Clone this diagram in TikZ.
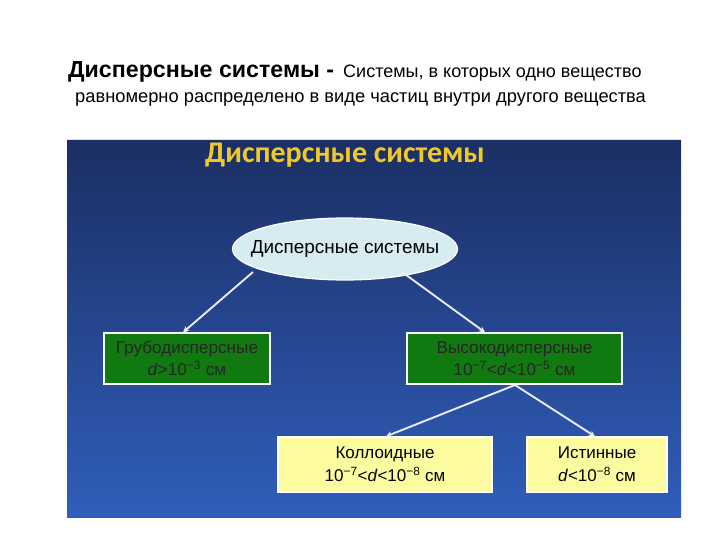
\documentclass[tikz,border=0pt]{standalone}
\usepackage{fontspec}
\setmainfont{Liberation Sans}
\newfontfamily\carl{Carlito}
\usetikzlibrary{arrows.meta,shapes.geometric}
\definecolor{navytop}{RGB}{27,47,100}
\definecolor{navybot}{RGB}{48,94,186}
\definecolor{ellfill}{RGB}{214,236,240}
\definecolor{grn}{RGB}{16,122,16}
\definecolor{yel}{RGB}{253,251,160}
\definecolor{titleyel}{RGB}{240,200,40}
\newcommand{\sups}[1]{\textsuperscript{#1}}
\tikzset{
  gbox/.style={draw=white, line width=1.2pt, fill=grn, minimum height=51pt, inner sep=0pt, align=center, font=\fontsize{17.2}{22}\selectfont, text=black!85},
  ybox/.style={draw=white, line width=1.2pt, fill=yel, minimum height=55pt, inner sep=0pt, align=center, font=\fontsize{17}{23}\selectfont, text=black},
  conn/.style={draw=white!92!blue, line width=1.9pt, -{Stealth[length=6pt,width=6pt]}}
}
\begin{document}
\begin{tikzpicture}[x=1pt,y=-1pt]
\useasboundingbox (0,0) rectangle (720,540);
\fill[white] (0,0) rectangle (720,540);
% heading
\node[anchor=base west, inner sep=0] (h1) at (68,78) {{\fontsize{23.2}{26}\selectfont\bfseries Дисперсные системы -}\hspace{9pt}{\fontsize{18}{21}\selectfont Системы, в которых одно вещество}};
\node[anchor=base west, inner sep=0] (h2) at (75,103) {\fontsize{18.3}{21}\selectfont равномерно распределено в виде частиц внутри другого вещества};
% panel
\draw[black!12, line width=0.6pt] (67,139) -- (681,139);
\shade[top color=navytop, bottom color=navybot] (67,141) rectangle (681,517);
\node[text=titleyel, font=\carl\bfseries\fontsize{30}{34}\selectfont] (title) at (345,155) {Дисперсные системы};
% nodes
\node[ellipse, draw=white, line width=1.2pt, fill=ellfill, minimum width=225pt, minimum height=62pt, inner sep=0pt, font=\fontsize{18.9}{22}\selectfont] (root) at (345,249) {\makebox[0pt]{Дисперсные системы}};
\node[gbox, minimum width=166pt] (coarse) at (187,358.5) {Грубодисперсные\\\textit{d}>10\sups{−3} см};
\node[gbox, minimum width=215pt] (fine) at (514.5,358.5) {Высокодисперсные\\10\sups{−7}<\textit{d}<10\sups{−5} см};
\node[ybox, minimum width=214pt] (coll) at (385,464.5) {Коллоидные\\10\sups{−7}<\textit{d}<10\sups{−8} см};
\node[ybox, minimum width=140pt] (true) at (597,464.5) {Истинные\\\textit{d}<10\sups{−8} см};
% connectors
\coordinate (r1) at (253,272);
\coordinate (r2) at (402,272);
\coordinate (f1) at (515,385);
\draw[conn] (r1) -- (coarse.north -| 183,0);
\draw[conn] (r2) -- (fine.north -| 485,0);
\draw[conn] (f1) -- (coll.north -| 386,0);
\draw[conn] (f1) -- (true.north -| 595,0);
\end{tikzpicture}
\end{document}
